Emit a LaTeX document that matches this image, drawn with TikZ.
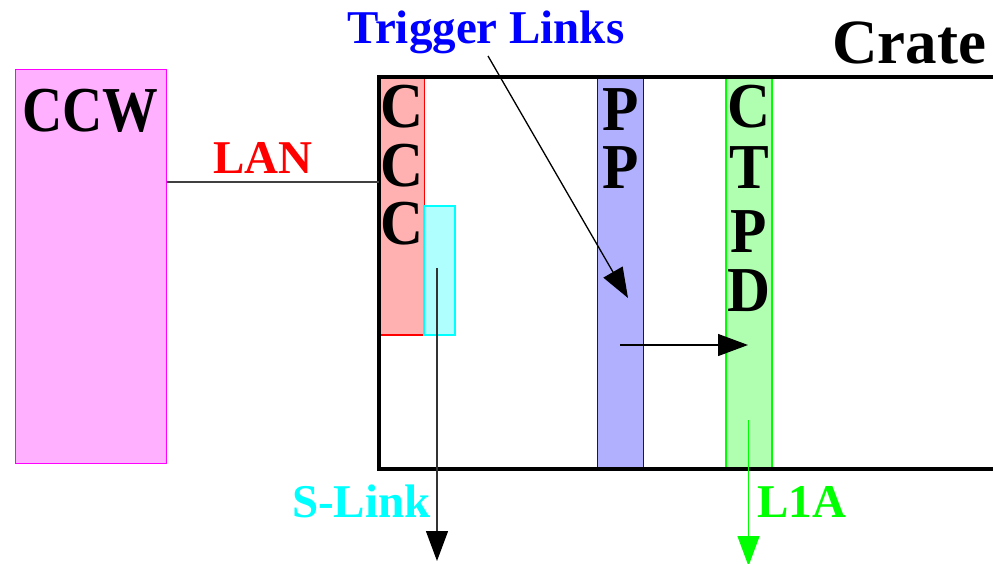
\documentclass[tikz,border=0pt]{standalone}
\usepackage{fontspec}
\setmainfont{Liberation Serif}
\usetikzlibrary{arrows.meta}
\definecolor{ccwfill}{HTML}{FFB0FF}
\definecolor{ccwline}{HTML}{FF00FF}
\definecolor{cccfill}{HTML}{FFB0B0}
\definecolor{cccline}{HTML}{FF0000}
\definecolor{slfill}{HTML}{B0FFFF}
\definecolor{slline}{HTML}{00FFFF}
\definecolor{ppfill}{HTML}{B0B0FF}
\definecolor{ppline}{HTML}{0000FF}
\definecolor{ctfill}{HTML}{B0FFB0}
\definecolor{ctline}{HTML}{00FF00}
\definecolor{lanline}{HTML}{404040}
\tikzset{
  colbox/.style={draw, line width=1.2pt, inner sep=0pt, outer sep=0pt, anchor=north west},
  bigletter/.style={font=\bfseries\fontsize{64}{64}\selectfont, inner sep=0pt, anchor=base, xscale=0.93},
  label/.style={font=\bfseries\fontsize{47}{47}\selectfont, inner sep=0pt, anchor=base west},
  tip/.style={-{Triangle[length=30pt,width=22pt]}, line width=1.3pt}
}
\begin{document}
\begin{tikzpicture}[x=1pt,y=-1pt]
\path[use as bounding box] (0,0) rectangle (993,563);
\clip (0,0) rectangle (993,563);
% CCW
\node[colbox, fill=ccwfill, draw=ccwline, minimum width=151pt, minimum height=394pt] (ccw) at (15.5,69.5) {};
\node[font=\bfseries\fontsize{64}{64}\selectfont, inner sep=0pt, anchor=base west, xscale=0.87] (ccwtxt) at (22,131) {CCW};
% boxes inside crate
\node[colbox, fill=cccfill, draw=cccline, minimum width=45pt, minimum height=257pt] (ccc) at (379.5,78) {};
\node[colbox, fill=slfill, draw=slline, minimum width=31pt, minimum height=129pt] (slbox) at (424,206) {};
\node[colbox, fill=ppfill, draw=ppline, minimum width=46pt, minimum height=392pt] (pp) at (597.5,78) {};
\node[colbox, fill=ctfill, draw=ctline, minimum width=46pt, minimum height=392pt] (ctpd) at (726,78) {};
% crate
\node[draw, line width=4pt, inner sep=0pt, outer sep=0pt, anchor=north west, minimum width=700pt, minimum height=392pt] (crate) at (378.5,77) {};
% letters
\node[bigletter] (c1) at (401.5,127) {C};
\node[bigletter] (c2) at (401.5,186) {C};
\node[bigletter] (c3) at (401.5,244) {C};
\node[bigletter] (p1) at (621,130) {P};
\node[bigletter] (p2) at (621,188) {P};
\node[bigletter] (t1) at (749,127) {C};
\node[bigletter] (t2) at (749,188) {T};
\node[bigletter] (t3) at (749,252) {P};
\node[bigletter] (t4) at (749,311) {D};
% labels
\node[font=\bfseries\fontsize{63}{63}\selectfont, inner sep=0pt, anchor=base west] (cratetxt) at (832,63) {Crate};
\node[label, text=ppline] (trig) at (347,43) {Trigger Links};
\node[label, text=cccline] (lan) at (213,173) {LAN};
\node[label, text=slline] (slink) at (292,517) {S-Link};
\node[label, text=ctline] (l1a) at (757,517) {L1A};
% connectors
\draw[lanline, line width=1.3pt] (ccw.east |- 0,182) -- (crate.west |- 0,182);
\coordinate (trigstart) at (488,56);
\coordinate (trigend) at (628,298);
\draw[tip] (trigstart) -- (trigend);
\coordinate (ppout) at (620,345);
\coordinate (ctin) at (748,345);
\draw[tip] (ppout) -- (ctin);
\coordinate (slstart) at (437,268);
\coordinate (slend) at (437,561);
\draw[black!80, line width=1.3pt, -{Triangle[length=30pt,width=22pt,fill=black,color=black]}] (slstart) -- (slend);
\coordinate (l1start) at (748.5,420);
\coordinate (l1end) at (748.5,566);
\draw[ctline, line width=1.3pt, -{Triangle[length=30pt,width=22pt]}] (l1start) -- (l1end);
\end{tikzpicture}
\end{document}
